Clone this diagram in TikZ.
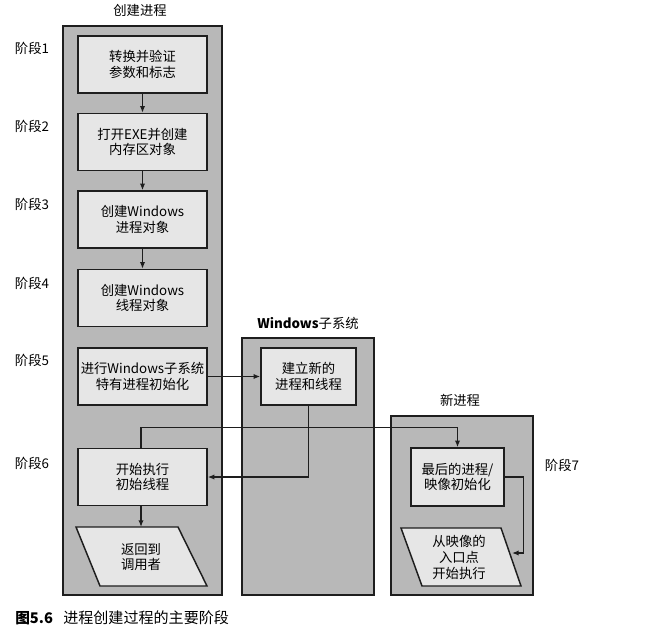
\documentclass[tikz,border=0pt]{standalone}
\usepackage{fontspec}
\setmainfont{Noto Sans CJK SC}
\usetikzlibrary{arrows.meta}
\definecolor{contfill}{RGB}{184,184,184}
\definecolor{boxfill}{RGB}{230,230,230}
\definecolor{ink}{RGB}{30,30,30}
\begin{document}
\begin{tikzpicture}[x=0.75pt,y=-0.75pt,
  cont/.style={draw=ink, fill=contfill, line width=0.9pt},
  box/.style={draw=ink, fill=boxfill, line width=1.1pt, minimum width=96.75pt, minimum height=42.75pt, align=center, inner sep=0pt, font=\fontsize{10}{11.5}\selectfont},
  para/.style={draw=ink, fill=boxfill, line width=1.1pt},
  ptext/.style={align=center, inner sep=0pt, font=\fontsize{10}{11.5}\selectfont},
  lbl/.style={inner sep=0pt, font=\fontsize{10}{11.5}\selectfont},
  arr/.style={draw=ink, line width=1pt, -{Latex[length=5pt,width=4pt]}},
]
\useasboundingbox (0,0) rectangle (653,625);
\fill[white] (0,0) rectangle (653,625);

% containers
\draw[cont] (63,26) rectangle (222,595);
\draw[cont] (242,338) rectangle (374,595);
\draw[cont] (391,416) rectangle (533,595);

% titles
\node[lbl] (t1) at (140,10) {创建进程};
\node[lbl] (t2) at (308,323) {\textbf{Windows}子系统};
\node[lbl] (t3) at (460,400) {新进程};

% stage labels
\node[lbl] (s1) at (32,48) {阶段1};
\node[lbl] (s2) at (32,126) {阶段2};
\node[lbl] (s3) at (32,204) {阶段3};
\node[lbl] (s4) at (32,283) {阶段4};
\node[lbl] (s5) at (32,360) {阶段5};
\node[lbl] (s6) at (32,463) {阶段6};
\node[lbl] (s7) at (562,465) {阶段7};

% left boxes
\node[box] (b1) at (142.5,64.5) {转换并验证\\参数和标志};
\node[box] (b2) at (142.5,142) {打开EXE并创建\\内存区对象};
\node[box] (b3) at (142.5,219.5) {创建Windows\\进程对象};
\node[box] (b4) at (142.5,298) {创建Windows\\线程对象};
\node[box] (b5) at (142.5,376.5) {进行Windows子系统\\特有进程初始化};
\node[box] (b6) at (142.5,477) {开始执行\\初始线程};

% subsystem box
\node[box, minimum width=71.25pt] (ws) at (308.5,376.5) {建立新的\\进程和线程};
% new process box
\node[box, minimum width=69.75pt, minimum height=43.5pt] (nb) at (457.5,477) {最后的进程/\\映像初始化};

% parallelograms
\draw[para] (76,527) -- (178,527) -- (207,586) -- (100,586) -- cycle;
\node[ptext] (p1) at (141,557) {返回到\\调用者};
\draw[para] (401,528) -- (501,528) -- (521,586) -- (422,586) -- cycle;
\node[ptext, font=\fontsize{10}{12}\selectfont] (p2) at (459,557) {从映像的\\入口点\\开始执行};
\coordinate (p1top) at (141,527);
\coordinate (p2east) at (512,553);

% connectors
\draw[arr] (b1.south) -- (b2.north);
\draw[arr] (b2.south) -- (b3.north);
\draw[arr] (b3.south) -- (b4.north);
\draw[arr] (b5.east) -- (ws.west);
\draw[arr] (ws.south) |- (b6.east);
\draw[arr] (b6.north -| 141,0) -- ++(0,-20) -| (nb.north);
\draw[arr] (b6.south -| 141,0) -- (p1top);
\draw[arr] (nb.east) -- ++(19,0) |- (p2east);

% caption
\node[inner sep=0pt, anchor=west, font=\fontsize{11}{13}\selectfont\bfseries] (c1) at (15,618) {图5.6};
\node[inner sep=0pt, anchor=west, font=\fontsize{11.3}{13}\selectfont] (c2) at (63,618) {进程创建过程的主要阶段};
\end{tikzpicture}
\end{document}
